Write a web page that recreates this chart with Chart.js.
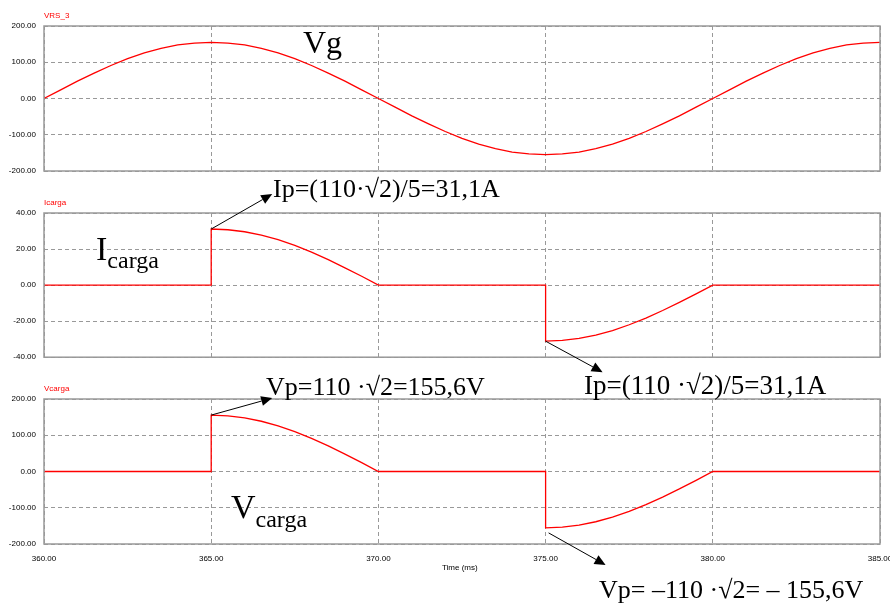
<!DOCTYPE html>
<html>
<head>
<meta charset="utf-8">
<script src="https://cdn.jsdelivr.net/npm/chart.js@4/dist/chart.umd.min.js"></script>
<style>
body { margin: 0; background: #fff; }
#wrap { position: relative; width: 890px; height: 606px; overflow: hidden; }
#wrap canvas { position: absolute; left: 0; }
.tag { position: absolute; font: 8px "Liberation Sans", Arial, sans-serif; color: #f00; line-height: 1; }
.note { position: absolute; font-family: "Liberation Serif", "Times New Roman", serif; color: #000; line-height: 1; white-space: nowrap; }
</style>
</head>
<body>
<div id="wrap">
  <canvas id="c1" width="890" height="185" style="top:0"></canvas>
  <canvas id="c2" width="890" height="185" style="top:185px"></canvas>
  <canvas id="c3" width="890" height="236" style="top:370px"></canvas>
  <canvas id="arrows" width="890" height="606" style="top:0;pointer-events:none"></canvas>

  <div class="tag" style="left:44px;top:12px">VRS_3</div>
  <div class="tag" style="left:44px;top:199px">Icarga</div>
  <div class="tag" style="left:44px;top:385px">Vcarga</div>
  <div class="tag" style="left:442px;top:564px;color:#000">Time (ms)</div>

  <div class="note" style="left:303px;top:26px;font-size:32px">Vg</div>
  <div class="note" style="left:273px;top:176px;font-size:26px">Ip=(110·√2)/5=31,1A</div>
  <div class="note" style="left:96px;top:232px;font-size:34px">I<span style="font-size:24px;position:relative;top:8px">carga</span></div>
  <div class="note" style="left:266px;top:374px;font-size:26px">Vp=110 ·√2=155,6V</div>
  <div class="note" style="left:584px;top:372px;font-size:27px">Ip=(110 ·√2)/5=31,1A</div>
  <div class="note" style="left:231px;top:490px;font-size:34px">V<span style="font-size:24px;position:relative;top:9px">carga</span></div>
  <div class="note" style="left:599px;top:577px;font-size:26px">Vp= –110 ·√2= – 155,6V</div>
</div>

<script>
// time axis (ms)
let xTicks = [360, 365, 370, 375, 380, 385];

// source voltage, one point every 0.5 ms
let vgTime = [360, 360.5, 361, 361.5, 362, 362.5, 363, 363.5, 364, 364.5,
    365, 365.5, 366, 366.5, 367, 367.5, 368, 368.5, 369, 369.5,
    370, 370.5, 371, 371.5, 372, 372.5, 373, 373.5, 374, 374.5,
    375, 375.5, 376, 376.5, 377, 377.5, 378, 378.5, 379, 379.5,
    380, 380.5, 381, 381.5, 382, 382.5, 383, 383.5, 384, 384.5, 385];
let vg = [0, 24, 48, 70, 91, 110, 126, 138, 148, 153,
    155, 153, 148, 138, 126, 110, 91, 70, 48, 24,
    0, -24, -48, -70, -91, -110, -126, -138, -148, -153,
    -155, -153, -148, -138, -126, -110, -91, -70, -48, -24,
    0, 24, 48, 70, 91, 110, 126, 138, 148, 153, 155];

// load current and load voltage (thyristor fired at 365 and 375 ms)
let cargaTime = [360, 365, 365, 365.5, 366, 366.5, 367, 367.5, 368, 368.5, 369, 369.5, 370,
    375, 375, 375.5, 376, 376.5, 377, 377.5, 378, 378.5, 379, 379.5, 380, 385];
let iCarga = [0, 0, 31.1, 30.7, 29.6, 27.7, 25.2, 22, 18.3, 14.1, 9.6, 4.9, 0,
    0, -31.1, -30.7, -29.6, -27.7, -25.2, -22, -18.3, -14.1, -9.6, -4.9, 0, 0];
let vCarga = [0, 0, 155.6, 153.7, 148, 138.6, 125.9, 110, 91.5, 70.6, 48.1, 24.3, 0,
    0, -155.6, -153.7, -148, -138.6, -125.9, -110, -91.5, -70.6, -48.1, -24.3, 0, 0];

let voltTicks = [-200, -100, 0, 100, 200];
let ampTicks = [-40, -20, 0, 20, 40];


function toPoints(xs, ys) {
    let pts = [];
    for (let i = 0; i < xs.length; i++) {
        pts.push({ x: xs[i], y: ys[i] });
    }
    return pts;
}

// solid grey frame round the plot area
let frame = {
    id: "frame",
    afterDraw(chart) {
        let a = chart.chartArea;
        let ctx = chart.ctx;
        ctx.save();
        ctx.strokeStyle = "#999";
        ctx.lineWidth = 1.5;
        ctx.strokeRect(a.left, a.top, a.right - a.left, a.bottom - a.top);
        ctx.restore();
    }
};

function makePanel(id, xs, ys, yTicks, pad, showX) {
    let gridOpts = { color: "#999", lineWidth: 1, drawTicks: false };
    return new Chart(id, {
        type: "line",
        data: {
            datasets: [{
                data: toPoints(xs, ys),
                borderColor: "#f00",
                borderWidth: 1.3,
                pointRadius: 0,
                tension: 0,
                fill: false
            }]
        },
        options: {
            responsive: false,
            animation: false,
            events: [],
            layout: { padding: pad },
            plugins: { legend: { display: false }, tooltip: { enabled: false } },
            scales: {
                x: {
                    type: "linear",
                    min: xTicks[0],
                    max: xTicks[xTicks.length - 1],
                    afterBuildTicks: s => { s.ticks = xTicks.map(v => ({ value: v })); },
                    afterFit: s => {
                        s.height = showX ? 30 : 0;
                        s.paddingLeft = 0;
                        s.paddingRight = 0;
                    },
                    grid: gridOpts,
                    border: { display: false, dash: [4, 3] },
                    ticks: {
                        display: showX,
                        padding: 10,
                        maxRotation: 0,
                        color: "#000",
                        font: { family: "Liberation Sans", size: 8 },
                        callback: v => v.toFixed(2)
                    }
                },
                y: {
                    min: yTicks[0],
                    max: yTicks[yTicks.length - 1],
                    afterBuildTicks: s => { s.ticks = yTicks.map(v => ({ value: v })); },
                    afterFit: s => { s.width = 44; },
                    grid: gridOpts,
                    border: { display: false, dash: [4, 3] },
                    ticks: {
                        padding: 8,
                        color: "#000",
                        font: { family: "Liberation Sans", size: 8 },
                        callback: v => v.toFixed(2)
                    }
                }
            }
        },
        plugins: [frame]
    });
}

let ch1 = makePanel("c1", vgTime, vg, voltTicks, { top: 26, bottom: 14, left: 0, right: 10 }, false);
let ch2 = makePanel("c2", cargaTime, iCarga, ampTicks, { top: 28, bottom: 12, left: 0, right: 10 }, false);
let ch3 = makePanel("c3", cargaTime, vCarga, voltTicks, { top: 29, bottom: 32, left: 0, right: 10 }, true);


// arrows pointing from the peaks to the notes
let ac = document.getElementById("arrows").getContext("2d");

function arrow(x1, y1, x2, y2) {
    let ang = Math.atan2(y2 - y1, x2 - x1);
    let len = 11, half = 5;
    let bx = x2 - len * Math.cos(ang);
    let by = y2 - len * Math.sin(ang);
    ac.strokeStyle = "#000";
    ac.fillStyle = "#000";
    ac.lineWidth = 1;
    ac.beginPath();
    ac.moveTo(x1, y1);
    ac.lineTo(bx, by);
    ac.stroke();
    ac.beginPath();
    ac.moveTo(x2, y2);
    ac.lineTo(bx + half * Math.sin(ang), by - half * Math.cos(ang));
    ac.lineTo(bx - half * Math.sin(ang), by + half * Math.cos(ang));
    ac.closePath();
    ac.fill();
}

function peakPx(chart, top, t, v) {
    return [chart.scales.x.getPixelForValue(t), chart.scales.y.getPixelForValue(v) + top];
}

let iPk = Math.max(...iCarga);
let vPk = Math.max(...vCarga);

let p = peakPx(ch2, 185, 365, iPk);
arrow(p[0], p[1], p[0] + 61, p[1] - 35);
p = peakPx(ch3, 370, 365, vPk);
arrow(p[0], p[1], p[0] + 61, p[1] - 17);
p = peakPx(ch2, 185, 375, -iPk);
arrow(p[0], p[1], p[0] + 57, p[1] + 31);
p = peakPx(ch3, 370, 375, -vPk);
arrow(p[0] + 3, p[1] + 5, p[0] + 60, p[1] + 37);
</script>
</body>
</html>
